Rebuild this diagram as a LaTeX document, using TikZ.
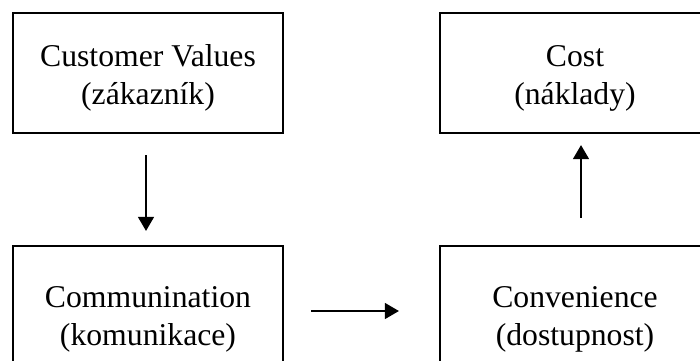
\documentclass[tikz,border=0pt]{standalone}
\usepackage{fontspec}
\setmainfont{Liberation Serif}
\usetikzlibrary{arrows.meta}

\tikzset{
  frame/.style={draw=black, line width=2.2pt, fill=white, inner sep=0pt,
    minimum width=270pt},
  caption/.style={inner sep=0pt, align=center,
    font=\fontsize{31.7}{38}\selectfont},
  flow/.style={draw=black, line width=1.3pt,
    -{Triangle[length=14pt,width=16pt]}}
}

\begin{document}
\begin{tikzpicture}[x=1pt, y=-1pt]
  \useasboundingbox (0,0) rectangle (700,360);
  \clip (0,0) rectangle (700,360);

  % the four marketing-mix boxes (4C)
  \node[frame, minimum height=120pt] (values) at (148,73) {};
  \node[frame, minimum height=120pt] (cost) at (575,73) {};
  \node[frame, minimum height=130pt] (comm) at (148,311) {};
  \node[frame, minimum height=130pt] (conv) at (575,311) {};

  % their captions
  \node[caption] (valuesText) at ([yshift=-5pt]values.center)
    {Customer Values\\(zákazník)};
  \node[caption] (costText) at ([yshift=-5pt]cost.center)
    {Cost\\(náklady)};
  \node[caption] (commText) at ([yshift=-8pt]comm.center)
    {Communination\\(komunikace)};
  \node[caption] (convText) at ([yshift=-8pt]conv.center)
    {Convenience\\(dostupnost)};

  % connectors
  \draw[flow, shorten <=21pt, shorten >=14pt]
    ([xshift=-2pt]values.south) -- ([xshift=-2pt]comm.north);
  \draw[flow, shorten <=27pt, shorten >=40pt]
    (comm.east) -- (conv.west);
  \draw[flow, shorten <=27pt, shorten >=11pt]
    ([xshift=6pt]conv.north) -- ([xshift=6pt]cost.south);
\end{tikzpicture}
\end{document}
